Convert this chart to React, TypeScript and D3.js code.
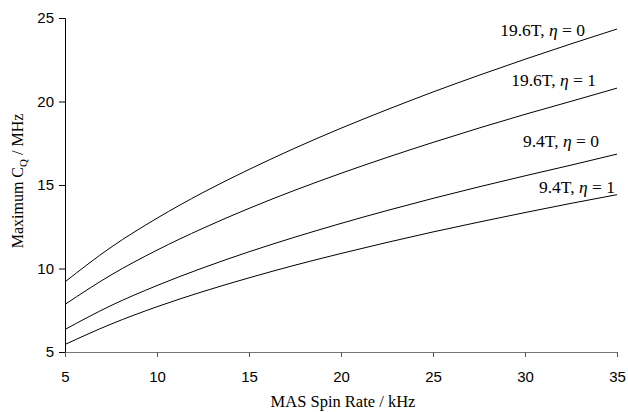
import * as d3 from 'd3';
import React, { useEffect, useRef } from 'react';

// MAS spin rate (kHz)
const spinRates = [5, 7.5, 10, 12.5, 15, 17.5, 20, 22.5, 25, 27.5, 30, 32.5, 35];

// Maximum CQ (MHz)
const cq196Eta0 = [9.2, 11.27, 13.01, 14.55, 15.93, 17.21, 18.4, 19.51, 20.57, 21.57, 22.53, 23.45, 24.34];
const cq196Eta1 = [7.85, 9.61, 11.1, 12.41, 13.6, 14.69, 15.7, 16.65, 17.55, 18.41, 19.23, 20.01, 20.8];
const cq94Eta0 = [6.35, 7.78, 8.98, 10.04, 11.0, 11.88, 12.7, 13.47, 14.2, 14.89, 15.55, 16.19, 16.85];
const cq94Eta1 = [5.45, 6.67, 7.71, 8.62, 9.44, 10.2, 10.9, 11.56, 12.19, 12.78, 13.35, 13.9, 14.42];

const seriesLabels = [
  { field: '19.6T', eta: '0', values: cq196Eta0, labelX: 585, labelY: 36 },
  { field: '19.6T', eta: '1', values: cq196Eta1, labelX: 596, labelY: 86 },
  { field: '9.4T', eta: '0', values: cq94Eta0, labelX: 599, labelY: 147 },
  { field: '9.4T', eta: '1', values: cq94Eta1, labelX: 615, labelY: 193 },
];

const xTicks = [5, 10, 15, 20, 25, 30, 35];
const yTicks = [5, 10, 15, 20, 25];

const App: React.FC = () => {
  const ref = useRef<SVGSVGElement>(null);

  useEffect(() => {
    if (!ref.current) return;
    const svg = d3.select(ref.current);
    svg.selectAll('*').remove();

    const x = d3.scaleLinear().domain([5, 35]).range([65, 617]);
    const y = d3.scaleLinear().domain([5, 25]).range([352, 18]);

    // Y axis
    const yAxis = svg.append('g')
      .attr('transform', 'translate(65,0)')
      .call(d3.axisLeft(y).tickValues(yTicks).tickSize(6).tickPadding(5).tickFormat(d3.format('d')));
    yAxis.select('.domain').attr('stroke', '#000');
    yAxis.selectAll('text')
      .style('font', '15px "Liberation Sans", Arial, sans-serif')
      .style('fill', '#000');

    // X axis
    const xAxis = svg.append('g')
      .attr('transform', 'translate(0,352)')
      .call(d3.axisBottom(x).tickValues(xTicks).tickSize(5).tickPadding(14).tickSizeOuter(0).tickFormat(d3.format('d')));
    xAxis.select('.domain').attr('stroke', '#777');
    xAxis.selectAll('.tick line').attr('stroke', '#555');
    xAxis.selectAll('text')
      .style('font', '15px "Liberation Sans", Arial, sans-serif')
      .style('fill', '#000');

    // Curves
    const line = d3.line<number>()
      .x((_, i) => x(spinRates[i]))
      .y(d => y(d))
      .curve(d3.curveMonotoneX);

    seriesLabels.forEach(s => {
      svg.append('path')
        .datum(s.values)
        .attr('d', line)
        .attr('fill', 'none')
        .attr('stroke', '#000')
        .attr('stroke-width', 1);

      const t = svg.append('text')
        .attr('x', s.labelX)
        .attr('y', s.labelY)
        .attr('text-anchor', 'end')
        .style('font', '17.5px "Liberation Serif", "Times New Roman", serif')
        .style('fill', '#000');
      t.append('tspan').text(`${s.field}, `);
      t.append('tspan').style('font-style', 'italic').text('η');
      t.append('tspan').text(` = ${s.eta}`);
    });

    // Axis titles
    svg.append('text')
      .attr('x', 343)
      .attr('y', 407)
      .attr('text-anchor', 'middle')
      .style('font', '16.5px "Liberation Serif", "Times New Roman", serif')
      .text('MAS Spin Rate / kHz');

    const yTitle = svg.append('text')
      .attr('transform', 'translate(23,181) rotate(-90)')
      .attr('text-anchor', 'middle')
      .style('font', '16px "Liberation Serif", "Times New Roman", serif');
    yTitle.append('tspan').text('Maximum C');
    yTitle.append('tspan').attr('dy', 4).style('font-size', '11px').text('Q');
    yTitle.append('tspan').attr('dy', -4).text(' / MHz');
  }, []);

  return (
    <svg ref={ref} width={628} height={412}
      style={{ position: 'absolute', left: 0, top: 0, background: '#fff' }} />
  );
};

export default App;
